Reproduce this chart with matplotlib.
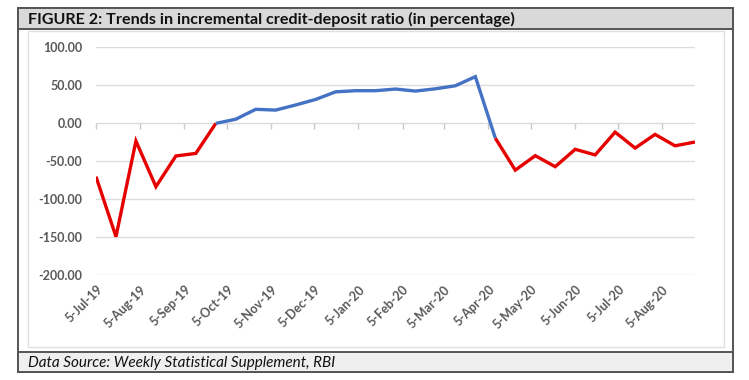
import matplotlib
matplotlib.use("Agg")
import matplotlib.pyplot as plt
from matplotlib.patches import Rectangle
import pandas as pd

# ---- data ----
dates = pd.date_range("2019-07-05", "2020-08-28", freq="14D")
values = [-70.6, -149.6, -23.7, -83.8, -43.4, -40.0, -0.5,
          5.0, 18.0, 17.0, 23.7, 31.0, 41.0, 42.5, 42.5, 44.7, 42.0, 45.0, 49.0, 61.0,
          -20.0, -62.0, -43.0, -57.5, -34.6, -42.0, -12.0, -33.0, -15.0, -30.0, -25.0]
blue_start, blue_end = 6, 20  # indices of the positive stretch (drawn blue)
tick_dates = pd.date_range("2019-07-01", "2020-08-01", freq="MS") + pd.Timedelta(days=4)
tick_labels = [d.strftime("%-d-%b-%y") for d in tick_dates]
y_ticks = [100, 50, 0, -50, -100, -150, -200]
title = "FIGURE 2: Trends in incremental credit-deposit ratio (in percentage)"
source = "Data Source: Weekly Statistical Supplement, RBI"

W, H = 749, 380
fig = plt.figure(figsize=(W / 100, H / 100), dpi=100)
fig.patch.set_facecolor("white")

def px(x0, y0, x1, y1):
    return (x0 / W, 1 - y1 / H, (x1 - x0) / W, (y1 - y0) / H)

def rect(x0, y0, x1, y1, fc, ec, lw, z=0):
    l, b, w, h = px(x0, y0, x1, y1)
    fig.patches.append(Rectangle((l, b), w, h, transform=fig.transFigure,
                                 facecolor=fc, edgecolor=ec, linewidth=lw, zorder=z))

# frame pieces
rect(18, 8, 733, 372, "white", "#555555", 1.4, -3)
rect(18, 8, 733, 29, "#d9d9d9", "#555555", 1.4, -2)
rect(28, 31, 724, 347, "white", "#e0e0e0", 1.0, -2)
rect(18, 352, 733, 372, "#efefef", "#555555", 1.4, -2)

fig.text(28 / W, 1 - 19 / H, title, fontsize=11.6, fontweight="bold",
         family="Lato", va="center", ha="left", color="#111111")
fig.text(28 / W, 1 - 362.5 / H, source, fontsize=11, style="italic",
         family="Lato", va="center", ha="left", color="#111111")

ax = fig.add_axes([96 / W, 1 - 275 / H, (695 - 96) / W, (275 - 47) / H])
ax.set_zorder(5)
ax.set_facecolor("none")
red = "#e60000"
blue = "#4472c4"
ax.plot(dates[:blue_start + 1], values[:blue_start + 1], color=red, lw=2.4,
        solid_joinstyle="miter", solid_capstyle="butt", zorder=3)
ax.plot(dates[blue_start:blue_end + 1], values[blue_start:blue_end + 1], color=blue,
        lw=2.4, solid_joinstyle="miter", solid_capstyle="butt", zorder=3)
ax.plot(dates[blue_end:], values[blue_end:], color=red, lw=2.4,
        solid_joinstyle="miter", solid_capstyle="butt", zorder=3)

ax.set_ylim(-200, 100)
ax.set_xlim(dates[0], dates[-1])
ax.set_yticks(y_ticks)
ax.set_yticklabels([f"{v:.2f}" for v in y_ticks])
ax.grid(axis="y", color="#dcdcdc", lw=1.0)
ax.set_axisbelow(True)
for s in ax.spines.values():
    s.set_visible(False)
ax.tick_params(axis="y", length=0, pad=10, labelsize=9, labelcolor="#595959")
ax.set_xticks(tick_dates)
ax.set_xticklabels(tick_labels, rotation=45, ha="right", rotation_mode="anchor")
ax.tick_params(axis="x", length=0, pad=6, labelsize=9, labelcolor="#595959")
for t in ax.get_xticklabels() + ax.get_yticklabels():
    t.set_family("Lato")
    t.set_fontweight("bold")

# category axis crossing at zero with small tick marks
sec = ax.secondary_xaxis(2 / 3)
sec.set_xticks(tick_dates)
sec.set_xticklabels([])
sec.tick_params(axis="x", direction="out", length=4, color="#c8c8c8", width=1)
sec.spines["bottom"].set_color("#d9d9d9")
sec.spines["top"].set_visible(False)
sec.xaxis.set_ticks_position("bottom")

fig.savefig("out.png", dpi=100)
